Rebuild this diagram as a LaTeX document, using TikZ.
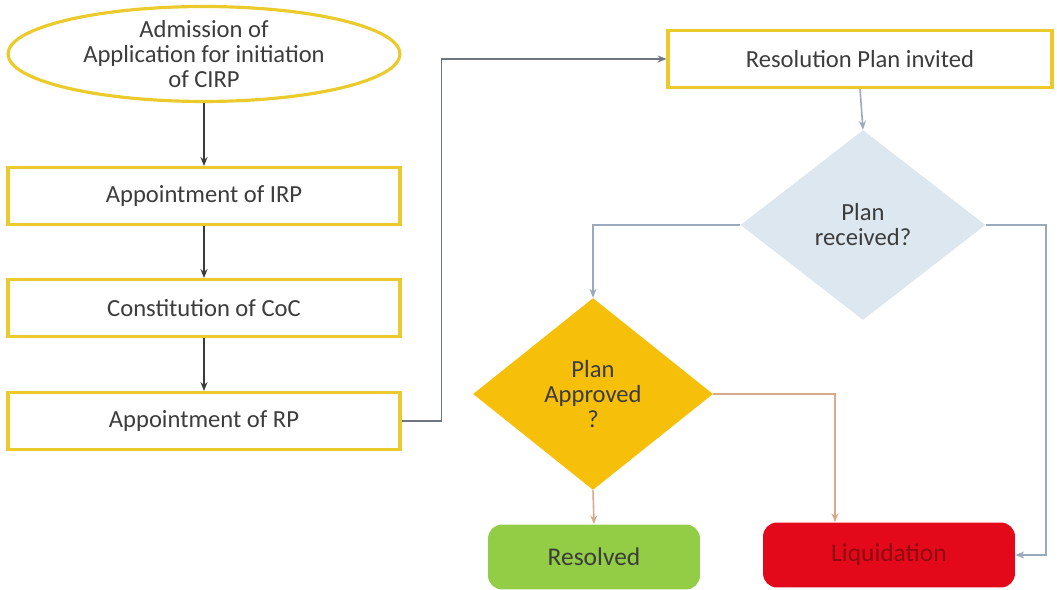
\documentclass[tikz,border=0pt]{standalone}
\usepackage{fontspec}
\setmainfont{Carlito}
\usetikzlibrary{positioning, calc, shapes.geometric, arrows.meta}

\definecolor{boxline}{HTML}{EBCB2C}
\definecolor{txtgray}{HTML}{3C3C3C}
\definecolor{recvfill}{HTML}{DCE7EF}
\definecolor{apprfill}{HTML}{F5BF0A}
\definecolor{resgreen}{HTML}{92CD45}
\definecolor{liqred}{HTML}{E3091B}
\definecolor{liqtxt}{HTML}{8E0A10}
\definecolor{linkgray}{HTML}{6E7480}
\definecolor{linkblue}{HTML}{9AA9BE}
\definecolor{linktan}{HTML}{D9A98A}

\begin{document}
\begin{tikzpicture}[x=0.02cm,y=-0.02cm,
  block/.style={rectangle,draw=boxline,line width=1.8pt,minimum height=1.14cm,minimum width=7.84cm,align=center,text=txtgray,font=\fontsize{14}{14.2}\selectfont},
  decision/.style={diamond,inner sep=0pt,align=center,text=txtgray,font=\fontsize{14}{14.2}\selectfont},
  result/.style={rectangle,rounded corners=8pt,minimum height=1.3cm,align=center,font=\fontsize{14.5}{15}\selectfont},
  flow/.style={draw=txtgray,line width=0.9pt,-{Stealth[length=5pt,width=4pt]}},
  link/.style={draw=#1,line width=0.9pt,-{Stealth[length=5pt,width=4pt]}} ]
\useasboundingbox (0,0) rectangle (1057,590);

% left column
\node (adm) [ellipse,draw=boxline,line width=1.8pt,minimum width=7.84cm,minimum height=1.74cm,inner sep=0pt,align=center,text=txtgray,font=\fontsize{14}{14.2}\selectfont] at (204,54) {Admission of\\Application for initiation\\of CIRP};
\node (irp) [block] at (204,196) {Appointment of IRP};
\node (coc) [block] at (204,308) {Constitution of CoC};
\node (rp) [block] at (204,421) {Appointment of RP};

% right part
\node (res) [block,minimum width=7.68cm] at (860,59) {Resolution Plan invited};
\node (recv) [decision,fill=recvfill,minimum width=4.9cm,minimum height=3.8cm] at (863,225) {Plan\\received?};
\node (appr) [decision,fill=apprfill,minimum width=4.8cm,minimum height=3.84cm] at (593,394) {Plan\\Approved\\?};
\node (done) [result,fill=resgreen,minimum width=4.24cm,text=txtgray] at (594,557) {Resolved};
\node (liq) [result,fill=liqred,minimum width=5.04cm,text=liqtxt] at (889,555) {Liquidation};

\begin{scope}
  \draw [flow] (adm) -- (irp);
  \draw [flow] (irp) -- (coc);
  \draw [flow] (coc) -- (rp);
  \draw [link=linkgray] (rp.east) -- ++(40,0) |- (res.west);
  \draw [link=linkblue] (res.south) -- (recv.north);
  \draw [link=linkblue] (recv.west) -| (appr.north);
  \draw [link=linkblue] (recv.east) -- ++(60,0) |- (liq.east);
  \draw [link=linktan] (appr.south) -- (done.north);
  \draw [link=linktan] (appr.east) -| ([xshift=-1.08cm]liq.north);
\end{scope}
\end{tikzpicture}
\end{document}
